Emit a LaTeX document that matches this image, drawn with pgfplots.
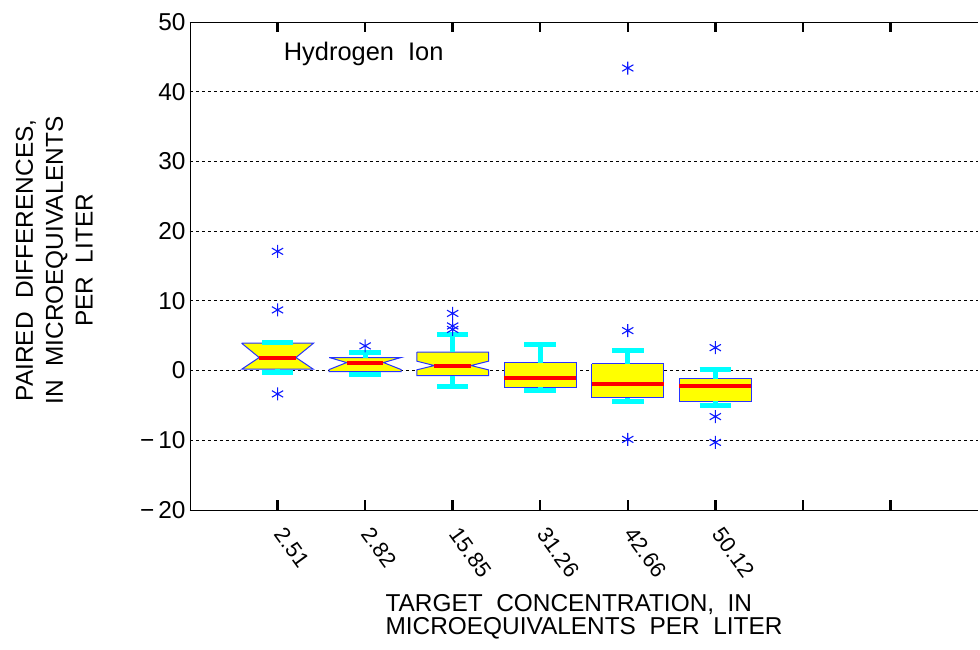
\documentclass[border=0pt]{standalone}
\usepackage{pgfplots}
\pgfplotsset{compat=1.18}
\usepackage{fontspec}
\setmainfont{Liberation Sans}
\definecolor{boxfill}{rgb}{1,1,0}
\definecolor{boxedge}{rgb}{0.15,0.2,1}
\definecolor{med}{rgb}{1,0,0}
\definecolor{whisk}{rgb}{0,1,1}
\definecolor{outl}{rgb}{0.05,0.1,1}
\newcommand{\lf}{\fontsize{24.5}{22.5}\selectfont}
\newcommand{\tf}{\fontsize{25.5}{25}\selectfont}
\newcommand{\xf}{\fontsize{22}{22}\selectfont}
\newcommand{\yf}{\fontsize{24.5}{30}\selectfont}
\begin{document}
\begin{tikzpicture}
\begin{axis}[
  at={(0,0)}, anchor=south west,
  scale only axis, width=788bp, height=488bp,
  xmin=0, xmax=9, ymin=-20, ymax=50,
  axis x line*=box, axis y line*=left,
  axis line style={black, line width=0.8bp},
  xtick={1,...,8},
  xticklabels={2.51,2.82,15.85,31.26,42.66,50.12,{},{}},
  ytick={-20,-10,...,50},
  yticklabels={−\,20,−\,10,0,10,20,30,40,50},
  tick align=inside,
  major tick length=10bp,
  xtick style={black, line width=2.5bp},
  ytick style={draw=none},
  ymajorgrids,
  major grid style={black, line width=0.8bp, dash pattern=on 3bp off 3bp},
  yticklabel style={font=\lf, xshift=-1bp},
  xticklabel style={font=\xf, xshift=9bp, yshift=-11bp, rotate=-54, anchor=north west},
  clip=false,
  unbounded coords=jump,
]
% boxes (notched for the first three)
\addplot[fill=boxfill, draw=boxedge, line width=1bp] coordinates {
 (0.59,3.92) (1.41,3.92) (1.21,1.87) (1.41,0.19) (0.59,0.19) (0.79,1.87) (0.59,3.92)};
\addplot[fill=boxfill, draw=boxedge, line width=1bp] coordinates {
 (1.59,1.87) (2.41,1.87) (2.21,1.15) (2.41,0.15) (2.41,-0.14) (1.59,-0.14) (1.59,0.15) (1.79,1.15) (1.59,1.87)};
\addplot[fill=boxfill, draw=boxedge, line width=1bp] coordinates {
 (2.59,2.63) (3.41,2.63) (3.41,1.35) (3.21,0.72) (3.41,0.10) (3.41,-0.72) (2.59,-0.72) (2.59,0.10) (2.79,0.72) (2.59,1.35) (2.59,2.63)};
\addplot[fill=boxfill, draw=boxedge, line width=1bp] coordinates {
 (3.59,1.13) (4.41,1.13) (4.41,-2.40) (3.59,-2.40) (3.59,1.13)};
\addplot[fill=boxfill, draw=boxedge, line width=1bp] coordinates {
 (4.59,0.95) (5.41,0.95) (5.41,-3.93) (4.59,-3.93) (4.59,0.95)};
\addplot[fill=boxfill, draw=boxedge, line width=1bp] coordinates {
 (5.59,-1.16) (6.41,-1.16) (6.41,-4.37) (5.59,-4.37) (5.59,-1.16)};
% medians
\addplot[med, line width=4bp] coordinates {
 (0.79,1.87) (1.21,1.87) (nan,nan)
 (1.79,1.15) (2.21,1.15) (nan,nan)
 (2.79,0.72) (3.21,0.72) (nan,nan)
 (3.59,-1.01) (4.41,-1.01) (nan,nan)
 (4.59,-1.88) (5.41,-1.88) (nan,nan)
 (5.59,-2.17) (6.41,-2.17)};
% whisker stems
\addplot[whisk, line width=5bp] coordinates {
 (1,3.92) (1,4.07) (nan,nan) (1,0.19) (1,-0.24) (nan,nan)
 (2,1.87) (2,2.63) (nan,nan) (2,-0.14) (2,-0.53) (nan,nan)
 (3,2.63) (3,5.20) (nan,nan) (3,-0.72) (3,-2.35) (nan,nan)
 (4,1.13) (4,3.77) (nan,nan) (4,-2.40) (4,-2.79) (nan,nan)
 (5,0.95) (5,2.90) (nan,nan) (5,-3.93) (5,-4.50) (nan,nan)
 (6,-1.16) (6,0.09) (nan,nan) (6,-4.37) (6,-5.08)};
% whisker caps
\addplot[whisk, line width=5bp] coordinates {
 (0.82,4.07) (1.18,4.07) (nan,nan) (0.82,-0.24) (1.18,-0.24) (nan,nan)
 (1.82,2.63) (2.18,2.63) (nan,nan) (1.82,-0.53) (2.18,-0.53) (nan,nan)
 (2.82,5.20) (3.18,5.20) (nan,nan) (2.82,-2.35) (3.18,-2.35) (nan,nan)
 (3.82,3.77) (4.18,3.77) (nan,nan) (3.82,-2.79) (4.18,-2.79) (nan,nan)
 (4.82,2.90) (5.18,2.90) (nan,nan) (4.82,-4.50) (5.18,-4.50) (nan,nan)
 (5.82,0.09) (6.18,0.09) (nan,nan) (5.82,-5.08) (6.18,-5.08)};
% outliers
\addplot[only marks, mark=asterisk, mark size=6.5bp, color=outl, line width=1.1bp] coordinates {
 (1,17.1) (1,8.7) (1,-3.35)
 (2,3.54)
 (3,8.2) (3,6.4) (3,5.9)
 (5,43.4) (5,5.73) (5,-9.87)
 (6,3.29) (6,-6.6) (6,-10.3)};
\node[anchor=west, font=\tf, inner sep=0pt] at (axis cs:1.07,45.4) {Hydrogen\ \ Ion};
\node[align=left, font=\lf] at (axis cs:4.5,-35.3) {TARGET\ \ CONCENTRATION,\ \ IN\\MICROEQUIVALENTS\ \ PER\ \ LITER};
\node[align=center, font=\yf, rotate=90] at (axis cs:-1.55,15.8) {PAIRED\ \ DIFFERENCES,\\IN\ \ MICROEQUIVALENTS\\PER\ \ LITER};
\end{axis}
\pgfresetboundingbox
\useasboundingbox (-190bp,-140bp) rectangle (790bp,510bp);
\end{tikzpicture}
\end{document}
